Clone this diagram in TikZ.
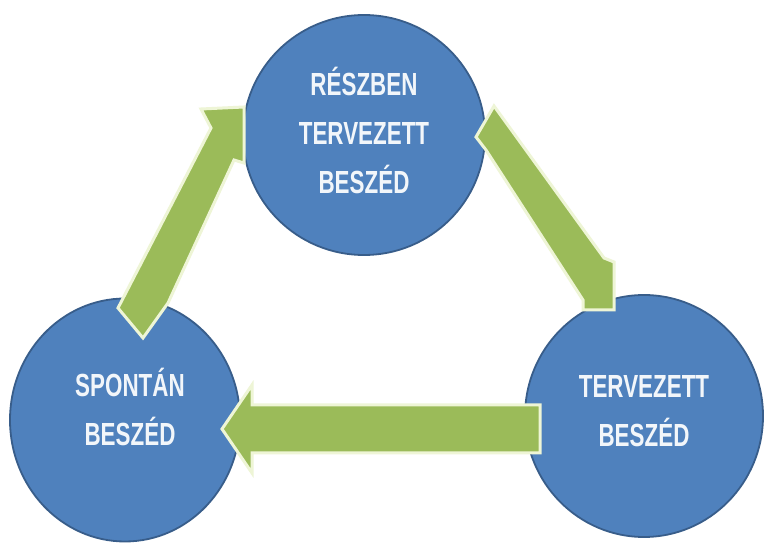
\documentclass[tikz,border=0pt]{standalone}
\usepackage{fontspec}
\setmainfont{Liberation Sans}
\newfontfamily\condfont[FakeStretch=0.70]{Liberation Sans}
\usetikzlibrary{shapes.geometric}
\definecolor{bluefill}{HTML}{4F81BD}
\definecolor{blueline}{HTML}{385D8A}
\definecolor{greenfill}{HTML}{9BBB59}
\definecolor{greenglow}{HTML}{EEF5D6}
\definecolor{labeltext}{HTML}{F2F6FA}
\begin{document}
\begin{tikzpicture}[x=1pt,y=-1pt,
  circ/.style={ellipse, draw=blueline, line width=1.8pt, fill=bluefill, inner sep=0pt},
  lbl/.style={text=labeltext, align=center, font=\condfont\bfseries\fontsize{32}{49}\selectfont},
  arrowshadow/.style={fill=black!40, opacity=0.45},
  blockarrow/.style={fill=greenfill, draw=greenglow, line width=3pt, line join=miter}]
\useasboundingbox[fill=white] (0,0) rectangle (764,545);

% circles
\node[circ, minimum width=242pt, minimum height=240pt] (top) at (364,135) {};
\node[circ, minimum width=230pt, minimum height=243pt] (left) at (125,420) {};
\node[circ, minimum width=238pt, minimum height=242pt] (right) at (644,416) {};

% arrow corner coordinates
% up arrow (left -> top)
\coordinate (u1) at (143,338); \coordinate (u2) at (118,308);
\coordinate (u3) at (211,128); \coordinate (u4) at (201,109);
\coordinate (u5) at (244,107); \coordinate (u6) at (244,163);
\coordinate (u7) at (234,160); \coordinate (u8) at (168,303);
% down-right arrow (top -> right)
\coordinate (d1) at (494,106); \coordinate (d2) at (476,137);
\coordinate (d3) at (486,150); \coordinate (d4) at (583,300);
\coordinate (d5) at (583,310); \coordinate (d6) at (614,310);
\coordinate (d7) at (614,262); \coordinate (d8) at (604,258);
% left arrow (right -> left)
\coordinate (h1) at (222,429); \coordinate (h2) at (252,385);
\coordinate (h3) at (252,405); \coordinate (h4) at (540,405);
\coordinate (h5) at (540,453); \coordinate (h6) at (252,453);
\coordinate (h7) at (252,473);

% shadows
\begin{scope}[shift={(2.5,3)}]
\fill[arrowshadow] (u1) -- (u2) -- (u3) -- (u4) -- (u5) -- (u6) -- (u7) -- (u8) -- cycle;
\fill[arrowshadow] (d1) -- (d2) -- (d3) -- (d4) -- (d5) -- (d6) -- (d7) -- (d8) -- cycle;
\fill[arrowshadow] (h1) -- (h2) -- (h3) -- (h4) -- (h5) -- (h6) -- (h7) -- cycle;
\end{scope}

% arrows
\draw[blockarrow] (u1) -- (u2) -- (u3) -- (u4) -- (u5) -- (u6) -- (u7) -- (u8) -- cycle;
\draw[blockarrow] (d1) -- (d2) -- (d3) -- (d4) -- (d5) -- (d6) -- (d7) -- (d8) -- cycle;
\draw[blockarrow] (h1) -- (h2) -- (h3) -- (h4) -- (h5) -- (h6) -- (h7) -- cycle;

% labels
\node[lbl] (toptext) at (364,130) {RÉSZBEN\\TERVEZETT\\BESZÉD};
\node[lbl] (lefttext) at (130,407) {SPONTÁN\\BESZÉD};
\node[lbl] (righttext) at (644,411) {TERVEZETT\\BESZÉD};
\end{tikzpicture}
\end{document}
